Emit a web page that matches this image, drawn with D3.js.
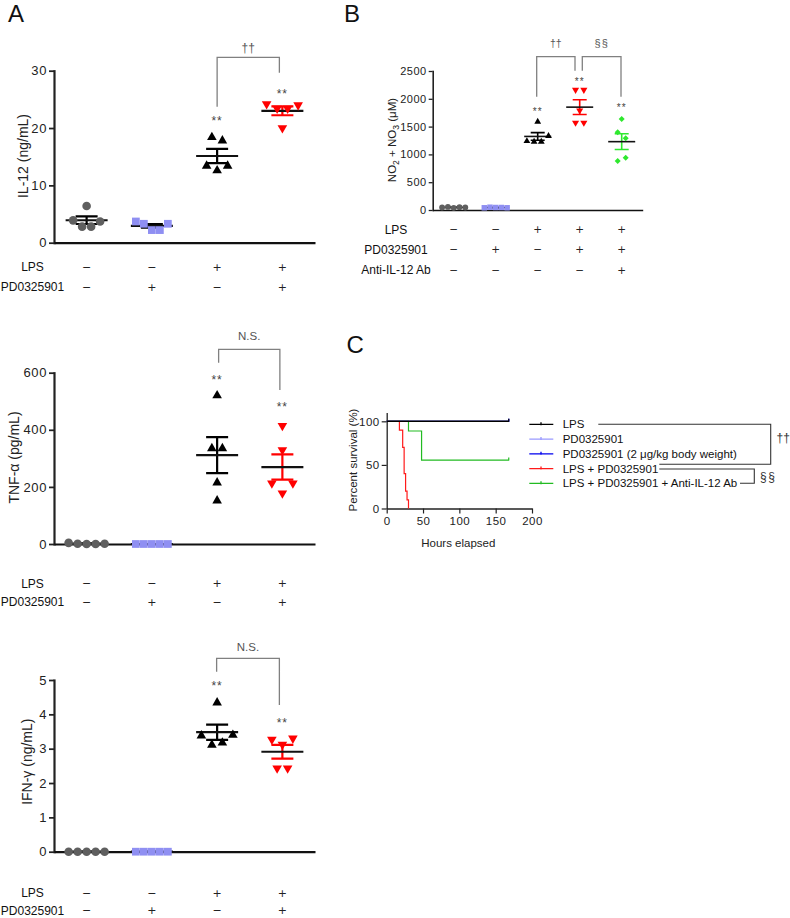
<!DOCTYPE html>
<html>
<head>
<meta charset="utf-8">
<script src="https://cdn.jsdelivr.net/npm/d3@7"></script>
<style>
  body { margin: 0; background: #fff; }
  svg { display: block; }
</style>
</head>
<body>
<svg></svg>
<script>
width = 790;
height = 918;
FONT = '"Liberation Sans", Arial, Helvetica, sans-serif';
svg = d3.select('svg')
  .attr('width', width)
  .attr('height', height)
  .attr('font-family', FONT);

// ---------- panel A data (4 groups, n = 5) ----------
groupsA = ['ctrl', 'pd', 'lps', 'lpsPd'];
lpsA = ['−', '−', '+', '+'];
pdA = ['−', '+', '−', '+'];
il12 = [
  [3.9, 6.4, 2.8, 2.8, 3.7],
  [3.7, 3.3, 2.2, 2.2, 3.3],
  [18.4, 17.8, 13.4, 12.6, 13.4],
  [24.2, 23.4, 23.4, 24.0, 20.0]
];
tnf = [
  [4, 1, 0, 0, 1],
  [0, 0, 0, 0, 0],
  [520, 335, 335, 215, 152],
  [414, 329, 213, 178, 213]
];
ifn = [
  [0, 0, 0, 0, 0],
  [0, 0, 0, 0, 0],
  [4.34, 3.38, 3.11, 3.17, 3.40],
  [3.27, 3.12, 3.30, 2.43, 2.43]
];
il12Ticks = [0, 10, 20, 30];
tnfTicks = [0, 200, 400, 600];
ifnTicks = [0, 1, 2, 3, 4, 5];

// ---------- panel B data (5 groups) ----------
groupsB = ['ctrl', 'pd', 'lps', 'lpsPd', 'lpsPdAb'];
lpsB = ['−', '−', '+', '+', '+'];
pdB = ['−', '+', '−', '+', '+'];
abB = ['−', '−', '−', '−', '+'];
nox = [
  [45, 55, 40, 50, 45],
  [40, 50, 45, 45, 40],
  [1588, 1240, 1228, 1228, 1331],
  [2160, 2160, 1790, 1570, 1570],
  [1637, 1397, 1290, 881, 941]
];
noxTicks = [0, 500, 1000, 1500, 2000, 2500];

// ---------- panel C data (Kaplan-Meier, [hours, % survival]) ----------
survNames = ['LPS', 'PD0325901', 'PD0325901 (2 μg/kg body weight)', 'LPS + PD0325901', 'LPS + PD0325901 + Anti-IL-12 Ab'];
survLps = [[0, 100], [168, 100]];
survPd = [[0, 100], [168, 100]];
survPd2 = [[0, 100], [168, 100]];
survLpsPd = [[0, 100], [17.5, 90], [22, 70], [24, 40], [26, 20], [28, 10], [30, 0]];
survAb = [[0, 100], [30, 88.9], [48, 55.6], [168, 55.6]];
survTicksX = [0, 50, 100, 150, 200];
survTicksY = [0, 50, 100];

// ---------- styles ----------
groupStyle = [
  { shape: 'circle', fill: '#5f5f5f', err: '#000' },
  { shape: 'square', fill: '#8f8ff2', err: '#000' },
  { shape: 'triangle', fill: '#000', err: '#000' },
  { shape: 'triangleDown', fill: '#ff0000', err: '#ff0000' },
  { shape: 'diamond', fill: '#2ee82e', err: '#2ee82e' }
];
survColors = ['#000', '#9a9aff', '#0000ee', '#ff1a1a', '#22bb22'];

symbolTypes = {
  circle: d3.symbolCircle, square: d3.symbolSquare, triangle: d3.symbolTriangle,
  triangleDown: d3.symbolTriangle, diamond: d3.symbolSquare
};
symbolRot = { triangleDown: 180, diamond: 45 };
fmt = d3.format('d');

// rows of points that are close in y get spread side by side (prism-like)
function swarm(vals, y, space, binH) {
  idx = d3.range(vals.length).sort((a, b) => vals[a] - vals[b]);
  off = new Array(vals.length);
  let i = 0;
  while (i < idx.length) {
    row = [idx[i]];
    let j = i + 1;
    while (j < idx.length && Math.abs(y(vals[idx[j]]) - y(vals[idx[i]])) <= binH) row.push(idx[j++]);
    row.sort((a, b) => a - b);
    row.forEach((k, n) => off[k] = (n - (row.length - 1) / 2) * space);
    i = j;
  }
  return off;
}

function scatterPanel(o) {
  g = svg.append('g');
  x = d3.scaleBand().domain(o.groups).range(o.xRange);
  cx = i => x(o.groups[i]) + x.bandwidth() / 2;
  y = d3.scaleLinear().domain(o.yDomain).range(o.yRange);

  // axes
  ya = g.append('g')
    .attr('transform', `translate(${o.xRange[0]},0)`)
    .call(d3.axisLeft(y).tickValues(o.ticks).tickFormat(fmt).tickSize(o.tickLen).tickSizeOuter(0).tickPadding(2));
  ya.attr('font-family', FONT).attr('font-size', o.tickFs).attr('color', '#222');
  ya.select('.domain').attr('stroke-width', o.lw).attr('stroke-linecap', 'square');
  ya.selectAll('.tick line').attr('stroke-width', o.lw * 0.8);
  ya.selectAll('.tick text').attr('letter-spacing', o.tickSpacing);
  xa = g.append('g')
    .attr('transform', `translate(0,${y(0)})`)
    .call(d3.axisBottom(x).tickValues([]).tickSizeOuter(0));
  xa.select('.domain').attr('stroke-width', o.lw).attr('color', '#111');

  // y label
  yl = g.append('text')
    .attr('transform', `translate(${o.yLabelPos[0]},${o.yLabelPos[1]}) rotate(-90)`)
    .attr('text-anchor', 'middle')
    .attr('dy', '0.36em')
    .attr('font-size', o.labelFs)
    .attr('fill', '#222');
  o.yLabel(yl);

  // condition rows under the x axis
  o.rows.forEach(r => {
    g.append('text')
      .attr('x', o.rowLabelX).attr('y', r.y).attr('dy', '0.36em')
      .attr('text-anchor', 'middle').attr('font-size', o.rowFs).attr('fill', '#111')
      .text(r.label);
    g.selectAll(null).data(r.signs).enter().append('text')
      .attr('x', (d, i) => cx(i)).attr('y', r.y).attr('dy', '0.36em')
      .attr('text-anchor', 'middle').attr('font-size', o.signFs)
      .attr('font-family', '"DejaVu Sans", sans-serif').attr('fill', '#222')
      .text(d => d);
  });

  // mean +/- SEM, then points on top
  o.values.forEach((vals, i) => {
    st = groupStyle[i];
    m = d3.mean(vals);
    sem = d3.deviation(vals) / Math.sqrt(vals.length);
    c = cx(i);
    eg = g.append('g').attr('stroke-width', o.lw);
    eg.append('path')
      .attr('d', `M${c},${y(m - sem)}V${y(m + sem)}M${c - o.semHalf},${y(m + sem)}H${c + o.semHalf}M${c - o.semHalf},${y(m - sem)}H${c + o.semHalf}`)
      .attr('stroke', st.err).attr('fill', 'none');
    eg.append('path')
      .attr('d', `M${c - o.meanHalf},${y(m)}H${c + o.meanHalf}`)
      .attr('stroke', '#111');

    offs = swarm(vals, y, o.spacing[st.shape], o.binH);
    sym = d3.symbol().type(symbolTypes[st.shape]).size(o.sizes[st.shape]);
    g.selectAll(null).data(vals).enter().append('path')
      .attr('d', sym)
      .attr('transform', (d, k) => `translate(${c + offs[k]},${y(d)}) rotate(${symbolRot[st.shape] || 0})`)
      .attr('fill', st.fill);
  });

  // significance stars
  o.stars.forEach(s => {
    g.append('text')
      .attr('x', cx(s.g)).attr('y', y(s.v)).attr('dy', '0.57em')
      .attr('text-anchor', 'middle').attr('font-size', o.starFs)
      .attr('letter-spacing', 1).attr('fill', '#444')
      .text('**');
  });

  // comparison brackets
  o.brackets.forEach(b => {
    xl = cx(b.from) + b.offL;
    xr = cx(b.to) + b.offR;
    g.append('path')
      .attr('d', `M${xl},${y(b.legL)}V${y(b.top)}H${xr}V${y(b.legR)}`)
      .attr('fill', 'none').attr('stroke', '#808080').attr('stroke-width', 1.3);
    g.append('text')
      .attr('x', (xl + xr) / 2).attr('y', y(b.textV))
      .attr('text-anchor', 'middle').attr('font-size', b.fs)
      .attr('letter-spacing', b.ls || 0).attr('fill', '#555')
      .text(b.text);
  });
}

commonA = {
  groups: groupsA, xRange: [54, 315], tickLen: 5, tickFs: 13, tickSpacing: 0.6,
  lw: 2.2, labelFs: 14, rowFs: 12, signFs: 11, rowLabelX: 32.5,
  sizes: { circle: 58, square: 60, triangle: 40, triangleDown: 40 },
  spacing: { circle: 9, square: 8, triangle: 10.5, triangleDown: 10.5 },
  binH: 11, meanHalf: 21, semHalf: 11, starFs: 12
};

// IL-12
scatterPanel(Object.assign({}, commonA, {
  values: il12, yDomain: [0, 30], yRange: [242.7, 70.7], ticks: il12Ticks,
  yLabelPos: [23, 156], yLabel: t => t.text('IL-12 (ng/mL)'),
  rows: [{ label: 'LPS', signs: lpsA, y: 267 }, { label: 'PD0325901', signs: pdA, y: 287 }],
  stars: [{ g: 2, v: 21.75 }, { g: 3, v: 26.5 }],
  brackets: [{ from: 2, to: 3, offL: 0, offR: -3, top: 32.34, legL: 23.72, legR: 29.65, textV: 33.3, text: '††', fs: 12 }]
}));

// TNF-alpha
scatterPanel(Object.assign({}, commonA, {
  values: tnf, yDomain: [0, 600], yRange: [544, 372.7], ticks: tnfTicks,
  yLabelPos: [14, 457.5], yLabel: t => t.text('TNF-α (pg/mL)'),
  rows: [{ label: 'LPS', signs: lpsA, y: 583.3 }, { label: 'PD0325901', signs: pdA, y: 601.7 }],
  stars: [{ g: 2, v: 586 }, { g: 3, v: 490 }],
  brackets: [{ from: 2, to: 3, offL: 1.5, offR: -2.5, top: 682, legL: 635, legR: 539, textV: 714, text: 'N.S.', fs: 11.5 }]
}));

// IFN-gamma
scatterPanel(Object.assign({}, commonA, {
  values: ifn, yDomain: [0, 5], yRange: [851.7, 680], ticks: ifnTicks,
  yLabelPos: [26.7, 761.7], yLabel: t => t.text('IFN-γ (ng/mL)'),
  rows: [{ label: 'LPS', signs: lpsA, y: 892.7 }, { label: 'PD0325901', signs: pdA, y: 910.5 }],
  stars: [{ g: 2, v: 4.905 }, { g: 3, v: 3.836 }],
  brackets: [{ from: 2, to: 3, offL: -0.5, offR: -3, top: 5.63, legL: 5.24, legR: 4.27, textV: 5.83, text: 'N.S.', fs: 11.5 }]
}));

// NO2 + NO3
scatterPanel({
  values: nox, groups: groupsB, xRange: [432.7, 642.7], yDomain: [0, 2500], yRange: [210, 71],
  ticks: noxTicks, tickLen: 4, tickFs: 11, tickSpacing: 0.5, lw: 1.6, labelFs: 11.5,
  rowFs: 12, signFs: 10.5, rowLabelX: 396,
  yLabelPos: [391.7, 140],
  yLabel: t => {
    t.append('tspan').text('NO');
    t.append('tspan').attr('font-size', '75%').attr('dy', '0.35em').text('2');
    t.append('tspan').attr('dy', '-0.26em').text(' + NO');
    t.append('tspan').attr('font-size', '75%').attr('dy', '0.35em').text('3');
    t.append('tspan').attr('dy', '-0.26em').text(' (μM)');
  },
  rows: [
    { label: 'LPS', signs: lpsB, y: 229.3 },
    { label: 'PD0325901', signs: pdB, y: 249.3 },
    { label: 'Anti-IL-12 Ab', signs: abB, y: 270 }
  ],
  sizes: { circle: 26, square: 30, triangle: 20, triangleDown: 22, diamond: 18 },
  spacing: { circle: 5.8, square: 5.7, triangle: 7.2, triangleDown: 8.3, diamond: 8 },
  binH: 8, meanHalf: 13.5, semHalf: 7, starFs: 10,
  stars: [{ g: 2, v: 1817 }, { g: 3, v: 2351 }, { g: 4, v: 1876 }],
  brackets: [
    { from: 2, to: 3, offL: -1, offR: -4.7, top: 2757, legL: 2038, legR: 2505, textV: 2923, text: '††', fs: 10.5 },
    { from: 3, to: 4, offL: 2.6, offR: -0.7, top: 2757, legL: 2505, legR: 2038, textV: 2923, text: '§§', fs: 11, ls: 1 }
  ]
});

// ---------- panel C: survival ----------
gc = svg.append('g');
xC = d3.scaleLinear().domain([0, 200]).range([386.7, 532]);
yC = d3.scaleLinear().domain([0, 110]).range([508.5, 412.6]);

xaC = gc.append('g').attr('transform', `translate(0,${yC(0)})`)
  .call(d3.axisBottom(xC).tickValues(survTicksX).tickFormat(fmt).tickSize(5).tickSizeOuter(0).tickPadding(3));
yaC = gc.append('g').attr('transform', `translate(${xC(0)},0)`)
  .call(d3.axisLeft(yC).tickValues(survTicksY).tickFormat(fmt).tickSize(5).tickSizeOuter(0).tickPadding(2));
[xaC, yaC].forEach(a => {
  a.attr('font-family', FONT).attr('font-size', 11.5).attr('color', '#222');
  a.select('.domain').attr('stroke-width', 1.3);
  a.selectAll('.tick line').attr('stroke-width', 1.2);
  a.selectAll('.tick text').attr('letter-spacing', 0.5);
});
gc.append('text')
  .attr('x', 458.3).attr('y', 542.7).attr('dy', '0.36em')
  .attr('text-anchor', 'middle').attr('font-size', 11.5).attr('fill', '#222')
  .text('Hours elapsed');
gc.append('text')
  .attr('transform', 'translate(353.3,460) rotate(-90)').attr('dy', '0.36em')
  .attr('text-anchor', 'middle').attr('font-size', 11.5).attr('fill', '#222')
  .text('Percent survival (%)');

survSeries = [survLps, survPd, survPd2, survLpsPd, survAb];
step = d3.line().x(d => xC(d[0])).y(d => yC(d[1])).curve(d3.curveStepAfter);
[3, 4, 1, 2, 0].forEach(i => {
  s = survSeries[i];
  gc.append('path').attr('d', step(s))
    .attr('fill', 'none').attr('stroke', survColors[i]).attr('stroke-width', i === 0 ? 1.6 : 1.2);
  last = s[s.length - 1];
  if (last[1] > 0) {
    gc.append('path')
      .attr('d', `M${xC(last[0])},${yC(last[1]) - 2.5}V${yC(last[1]) + 0.5}`)
      .attr('stroke', survColors[i]).attr('stroke-width', 1.2);
  }
});

// legend
legY = d3.scaleLinear().domain([0, 4]).range([424.3, 483.3]);
survNames.forEach((name, i) => {
  ly = legY(i);
  gc.append('path').attr('d', `M529.3,${ly}H553.3M541,${ly - 2}V${ly + 1}`)
    .attr('stroke', survColors[i]).attr('stroke-width', 1.3);
  gc.append('text').attr('x', 562.7).attr('y', ly).attr('dy', '0.36em')
    .attr('font-size', 11.5).attr('fill', '#111').text(name);
});
gc.append('path')
  .attr('d', `M598.3,${legY(0)}H770.7V464.3H659.3M659.3,469H754.3V${legY(4)}H740`)
  .attr('fill', 'none').attr('stroke', '#333').attr('stroke-width', 1.1);
gc.append('text').attr('x', 776.5).attr('y', 438.5).attr('dy', '0.3em')
  .attr('font-size', 12).attr('fill', '#333').text('††');
gc.append('text').attr('x', 760).attr('y', 476.7).attr('dy', '0.36em')
  .attr('font-size', 12).attr('letter-spacing', 1.5).attr('fill', '#333').text('§§');

// panel letters
[['A', 8, 22], ['B', 344, 22], ['C', 346.5, 353]].forEach(p => {
  svg.append('text').attr('x', p[1]).attr('y', p[2])
    .attr('font-size', 24).attr('fill', '#111').text(p[0]);
});
</script>
</body>
</html>
